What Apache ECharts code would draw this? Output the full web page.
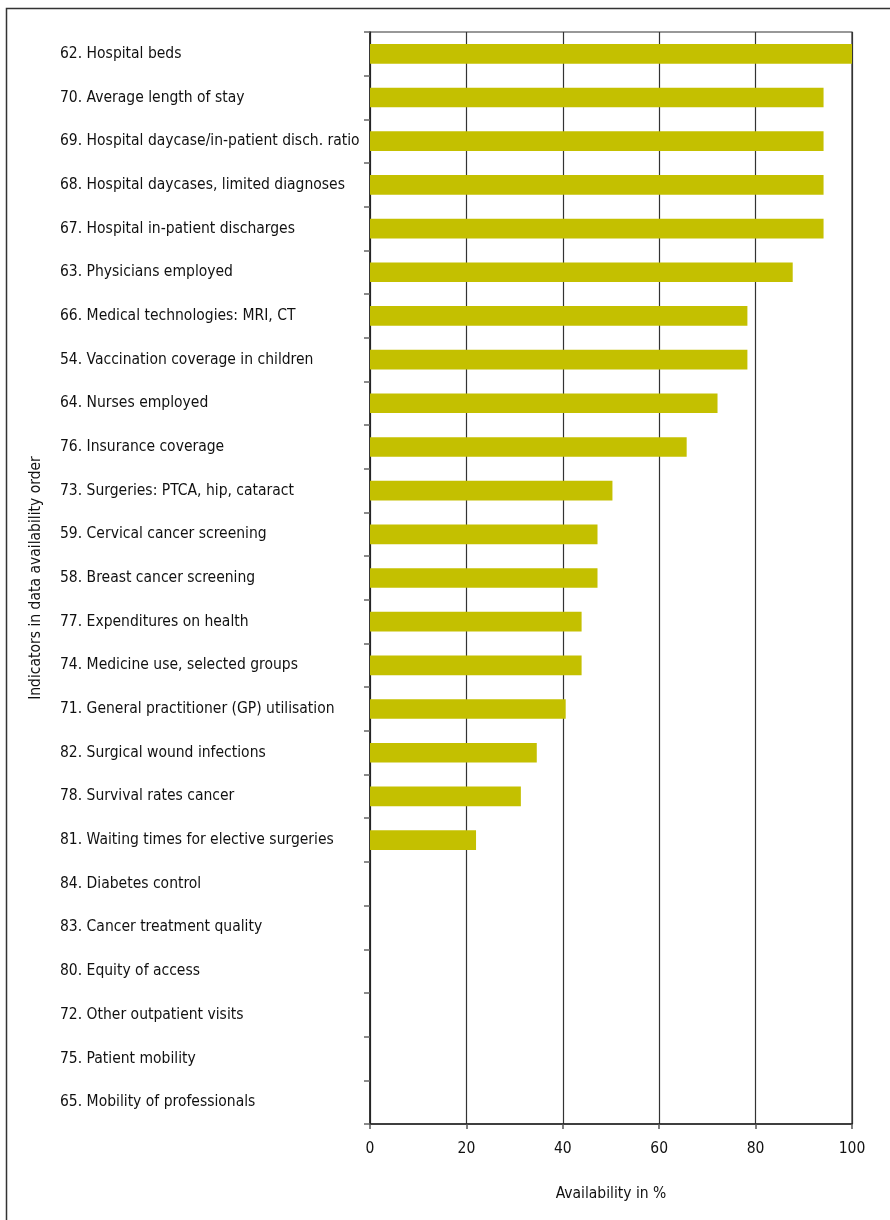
<!DOCTYPE html>
<html>
<head>
<meta charset="utf-8">
<script src="https://cdn.jsdelivr.net/npm/echarts@6/dist/echarts.min.js"></script>
<style>
html,body{margin:0;padding:0;background:#fff;}
#chart{width:890px;height:1220px;}
</style>
</head>
<body>
<div id="chart"></div>
<script>
var categories = [
  "62. Hospital beds",
  "70. Average length of stay",
  "69. Hospital daycase/in-patient disch. ratio",
  "68. Hospital daycases, limited diagnoses",
  "67. Hospital in-patient discharges",
  "63. Physicians employed",
  "66. Medical technologies: MRI, CT",
  "54. Vaccination coverage in children",
  "64. Nurses employed",
  "76. Insurance coverage",
  "73. Surgeries: PTCA, hip, cataract",
  "59. Cervical cancer screening",
  "58. Breast cancer screening",
  "77. Expenditures on health",
  "74. Medicine use, selected groups",
  "71. General practitioner (GP) utilisation",
  "82. Surgical wound infections",
  "78. Survival rates cancer",
  "81. Waiting times for elective surgeries",
  "84. Diabetes control",
  "83. Cancer treatment quality",
  "80. Equity of access",
  "72. Other outpatient visits",
  "75. Patient mobility",
  "65. Mobility of professionals"
];
var availability = [100, 94.1, 94.1, 94.1, 94.1, 87.7, 78.3, 78.3, 72.1, 65.7, 50.3, 47.2, 47.2, 43.9, 43.9, 40.6, 34.6, 31.3, 22.0, 0, 0, 0, 0, 0, 0];
var xTicks = [0, 20, 40, 60, 80, 100];

var FONT = '"Liberation Sans Narrow", "DejaVu Sans Condensed", "Noto Sans", sans-serif';
var chart = echarts.init(document.getElementById('chart'));
chart.setOption({
  animation: false,
  backgroundColor: '#fff',
  textStyle: { fontFamily: FONT },
  graphic: [{
    type: 'rect',
    left: 4, top: 6,
    shape: { width: 900, height: 1240 },
    style: { fill: 'none', stroke: '#333', lineWidth: 1.5 },
    silent: true
  }],
  grid: {
    left: 370, right: 38, top: 32, bottom: 96,
    show: true, borderColor: '#333', borderWidth: 1.2, backgroundColor: 'transparent'
  },
  xAxis: {
    type: 'value',
    min: xTicks[0], max: xTicks[xTicks.length - 1], interval: 20,
    name: 'Availability in %',
    nameLocation: 'middle', nameGap: 62,
    nameTextStyle: { fontFamily: FONT, fontSize: 15.5, color: '#111' },
    axisLine: { show: true, lineStyle: { color: '#222', width: 1.5 } },
    axisTick: { show: true, length: 5, lineStyle: { color: '#555', width: 1.5 } },
    axisLabel: { fontFamily: FONT, fontSize: 15.5, color: '#111', margin: 17 },
    splitLine: { show: true, lineStyle: { color: '#333', width: 1.2 } }
  },
  yAxis: {
    type: 'category',
    data: categories,
    inverse: true,
    name: 'Indicators in data availability order',
    nameLocation: 'middle', nameGap: 326, nameRotate: 90,
    nameTextStyle: { fontFamily: FONT, fontSize: 15.5, color: '#111' },
    axisLine: { show: true, lineStyle: { color: '#222', width: 1.5 } },
    axisTick: { show: true, length: 6, lineStyle: { color: '#666', width: 1.5 } },
    axisLabel: { fontFamily: FONT, fontSize: 15.5, color: '#111', align: 'left', margin: 310 },
    splitLine: { show: false }
  },
  series: [{
    type: 'bar',
    data: availability,
    barWidth: '45%',
    itemStyle: { color: '#c4c000', borderWidth: 0 }
  }]
});
</script>
</body>
</html>
